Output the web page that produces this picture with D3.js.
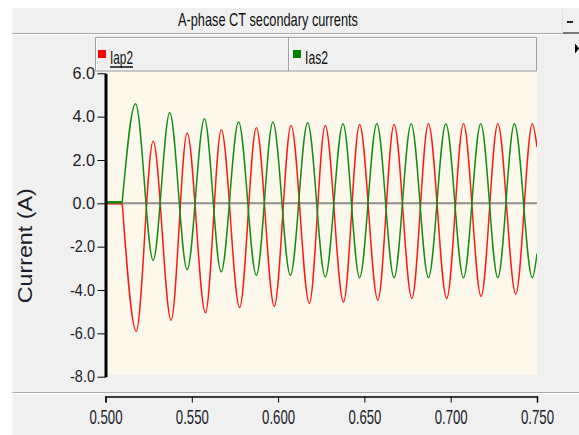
<!DOCTYPE html>
<html>
<head>
<meta charset="utf-8">
<script src="https://d3js.org/d3.v7.min.js"></script>
<style>
  body { margin: 0; background: #fff; }
  svg { display: block; font-family: Arial, "Liberation Sans", sans-serif; }
  .tick text { fill: #1c1c2a; }
</style>
</head>
<body>
<svg width="579" height="435"></svg>
<script>
// A-phase CT secondary currents (peaks / troughs)
var iap2Time  = [0.500, 0.5097, 0.5178, 0.5276, 0.5380, 0.5473, 0.5579, 0.5671, 0.5777, 0.5874, 0.5978, 0.6075, 0.6181, 0.6273,
                 0.6379, 0.6472, 0.6578, 0.6672, 0.6775, 0.6871, 0.6977, 0.7074, 0.7176, 0.7273, 0.7377, 0.7473, 0.750];
var iap2Value = [0, 0, -5.90, 2.87, -5.39, 3.24, -5.05, 3.39, -4.81, 3.49, -4.75, 3.59, -4.62, 3.59,
                 -4.55, 3.64, -4.47, 3.64, -4.39, 3.67, -4.39, 3.67, -4.29, 3.67, -4.19, 3.67, 2.60];
var ias2Time  = [0.500, 0.5097, 0.5174, 0.5276, 0.5372, 0.5473, 0.5573, 0.5670, 0.5771, 0.5874, 0.5970, 0.6071, 0.6171, 0.6273,
                 0.6376, 0.6472, 0.6572, 0.6672, 0.6771, 0.6871, 0.6972, 0.7074, 0.7174, 0.7273, 0.7369, 0.7473, 0.750];
var ias2Value = [0.05, 0.05, 4.59, -2.63, 4.18, -3.06, 3.90, -3.16, 3.75, -3.32, 3.75, -3.32, 3.72, -3.39,
                 3.67, -3.43, 3.67, -3.43, 3.67, -3.43, 3.67, -3.43, 3.67, -3.43, 3.67, -3.43, -2.32];
var seriesNames = ["Iap2", "Ias2"];
var xTicks = [0.500, 0.550, 0.600, 0.650, 0.700, 0.750];
var yTicks = [6, 4, 2, 0, -2, -4, -6, -8];

var svg = d3.select("svg");

var x = d3.scaleLinear().domain([0.5, 0.75]).range([105.5, 537]);
var y = d3.scaleLinear().domain([-8, 6]).range([376.7, 73.3]);

// squeeze/stretch a text to a given width
function fitText(sel, w) {
  sel.attr("textLength", w).attr("lengthAdjust", "spacingAndGlyphs");
}

// window panel
svg.append("rect").attr("x", 12.5).attr("y", 8).attr("width", 567).attr("height", 427).attr("fill", "#f0f0f0");

// title bar
svg.append("line").attr("x1", 12.5).attr("x2", 563).attr("y1", 33.5).attr("y2", 33.5).attr("stroke", "#a8a8a8");
svg.append("line").attr("x1", 12.5).attr("x2", 563).attr("y1", 34.5).attr("y2", 34.5).attr("stroke", "#fff");
svg.append("line").attr("x1", 563).attr("x2", 579).attr("y1", 33).attr("y2", 33).attr("stroke", "#7a7a7a").attr("stroke-width", 2);
svg.append("line").attr("x1", 562.5).attr("x2", 562.5).attr("y1", 8).attr("y2", 33).attr("stroke", "#e0e0e0");
svg.append("rect").attr("x", 567).attr("y", 21).attr("width", 6).attr("height", 2).attr("fill", "#222");
svg.append("text").attr("x", 268).attr("y", 26).attr("text-anchor", "middle")
  .attr("font-size", 18.5).attr("fill", "#111").text("A-phase CT secondary currents")
  .call(fitText, 180);
svg.append("path").attr("d", "M575,43.5L579,48.5L575,53.5Z").attr("fill", "#000");

// legend
var legend = svg.append("g");
legend.append("rect").attr("x", 95.5).attr("y", 37.5).attr("width", 441).attr("height", 33.5)
  .attr("fill", "#f0f0f0").attr("stroke", "#a0a0a0");
legend.append("path").attr("d", "M96.5,70V38.5H535.5").attr("fill", "none").attr("stroke", "#fff");
legend.append("line").attr("x1", 288.5).attr("x2", 288.5).attr("y1", 38).attr("y2", 71).attr("stroke", "#a0a0a0");
legend.append("line").attr("x1", 289.5).attr("x2", 289.5).attr("y1", 38).attr("y2", 70).attr("stroke", "#fff");
var legendColors = ["#ff0000", "#008000"];
var legendX = [98, 293];
seriesNames.forEach(function(name, i) {
  legend.append("text").attr("x", legendX[i] + 12).attr("y", 63.5).attr("font-size", 18.5).attr("fill", "#111")
    .text(name).call(fitText, 23);
  legend.append("rect").attr("x", legendX[i]).attr("y", 50).attr("width", 8).attr("height", 8).attr("fill", legendColors[i]);
});
legend.append("line").attr("x1", 110).attr("x2", 133).attr("y1", 67).attr("y2", 67).attr("stroke", "#111").attr("stroke-width", 1.5);

// plot area
svg.append("rect").attr("x", 107).attr("y", 72).attr("width", 430).attr("height", 302.5).attr("fill", "#fdf8ec");
svg.append("clipPath").attr("id", "plotclip")
  .append("rect").attr("x", 107).attr("y", 72).attr("width", 430).attr("height", 302.5);

svg.append("line").attr("x1", 107).attr("x2", 537).attr("y1", y(0)).attr("y2", y(0))
  .attr("stroke", "#8e8e8e").attr("stroke-width", 2);

var plot = svg.append("g").attr("clip-path", "url(#plotclip)");

function drawSeries(times, values, color) {
  var pts = times.map(function(t, i) { return [t, values[i]]; });
  var flat = d3.line().x(function(d) { return x(d[0]); }).y(function(d) { return y(d[1]); });
  var wave = d3.line().curve(d3.curveMonotoneX).x(function(d) { return x(d[0]); }).y(function(d) { return y(d[1]); });
  // pre-fault part is a straight line, the fault current starts at the second point
  plot.append("path").attr("d", flat(pts.slice(0, 2))).attr("fill", "none").attr("stroke", color).attr("stroke-width", 2.5);
  plot.append("path").attr("d", wave(pts.slice(1))).attr("fill", "none").attr("stroke", color).attr("stroke-width", 1.5);
}
drawSeries(iap2Time, iap2Value, "#ff1a1a");
drawSeries(ias2Time, ias2Value, "#138c13");

// y axis
var yAxis = svg.append("g").attr("transform", "translate(105.5,0)")
  .call(d3.axisLeft(y).tickValues(yTicks).tickSize(8).tickSizeOuter(0).tickPadding(2.5)
    .tickFormat(function(d) { return d.toFixed(1); }));
yAxis.select(".domain").attr("stroke", "#000").attr("stroke-width", 3);
yAxis.selectAll(".tick line").attr("stroke", "#000");
yAxis.selectAll(".tick text").attr("font-size", 16.5).attr("font-family", null)
  .each(function(d) { d3.select(this).call(fitText, d < 0 ? 25 : 22.5); });

svg.append("text").attr("transform", "translate(31.5,245.8) rotate(-90)").attr("text-anchor", "middle")
  .attr("font-size", 21).attr("fill", "#1c1c2a").text("Current (A)").call(fitText, 115);

// separator above x axis
svg.append("line").attr("x1", 12.5).attr("x2", 579).attr("y1", 392.5).attr("y2", 392.5).attr("stroke", "#a8a8a8");
svg.append("line").attr("x1", 12.5).attr("x2", 579).attr("y1", 393.5).attr("y2", 393.5).attr("stroke", "#fff");

// x axis
var xAxis = svg.append("g").attr("transform", "translate(0,396.5)")
  .call(d3.axisBottom(x).tickValues(xTicks).tickSize(6).tickSizeOuter(6)
    .tickFormat(function(d) { return d.toFixed(3); }));
xAxis.select(".domain").attr("stroke", "#000").attr("stroke-width", 1.5);
xAxis.selectAll(".tick line").attr("stroke", "#000");
xAxis.selectAll(".tick text").attr("font-size", 21).attr("font-family", null)
  .attr("y", 27.5).attr("dy", 0).call(fitText, 33);
</script>
</body>
</html>
